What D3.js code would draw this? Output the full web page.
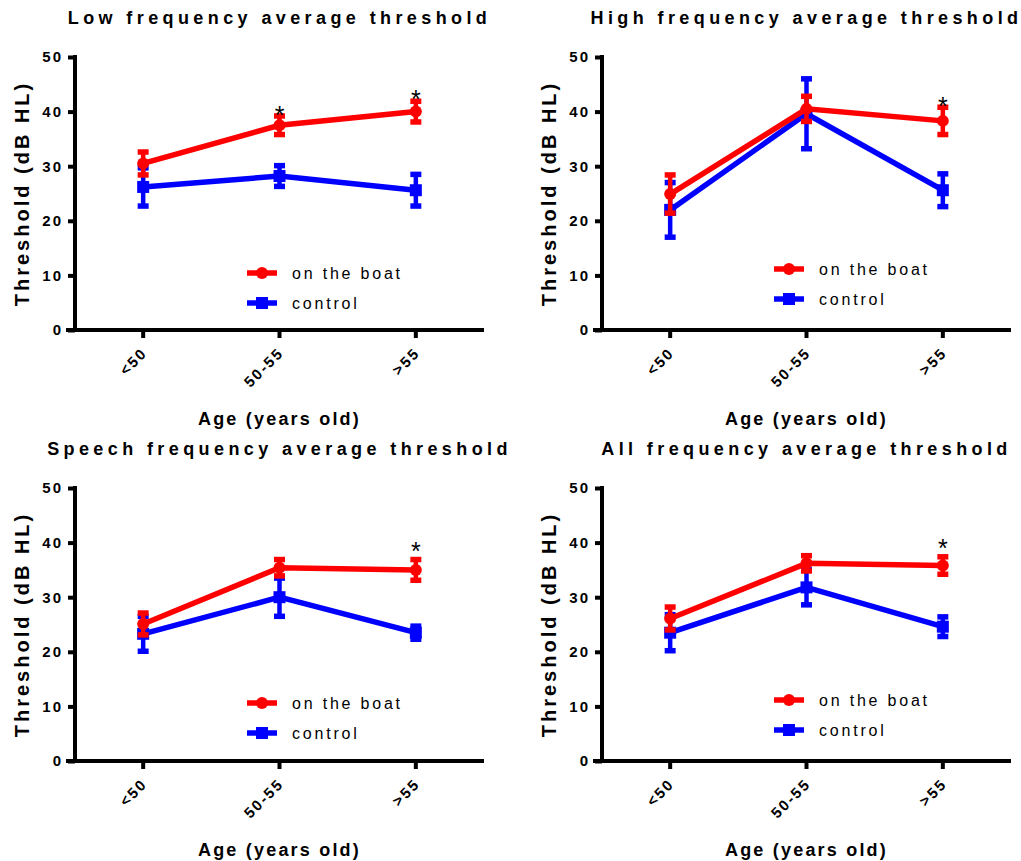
<!DOCTYPE html>
<html>
<head>
<meta charset="utf-8">
<script src="https://cdn.jsdelivr.net/npm/d3@7"></script>
<style>
  body { margin: 0; background: #fff; }
  text { font-family: 'Liberation Sans', Arial, sans-serif; }
</style>
</head>
<body>
<script>
// chart data
let ageGroups = ['<50', '50-55', '>55']
let yTicks = [0, 10, 20, 30, 40, 50]
let panelTitles = [
  'Low frequency average threshold',
  'High frequency average threshold',
  'Speech frequency average threshold',
  'All frequency average threshold'
]
let seriesNames = ['on the boat', 'control']

// mean threshold per age group, one row per panel
let boatMean = [
  [30.5, 37.5, 40.0],
  [24.9, 40.5, 38.3],
  [25.1, 35.4, 35.0],
  [26.1, 36.2, 35.8]
]
let boatErr = [
  [2.1, 1.7, 1.9],
  [3.5, 2.3, 2.5],
  [2.0, 1.5, 1.9],
  [2.1, 1.4, 1.6]
]
let controlMean = [
  [26.2, 28.2, 25.6],
  [22.0, 39.6, 25.6],
  [23.3, 30.0, 23.5],
  [23.5, 31.8, 24.6]
]
let controlErr = [
  [3.5, 1.9, 2.9],
  [5.0, 6.4, 3.0],
  [3.2, 3.5, 1.2],
  [3.3, 3.2, 1.8]
]
// significance stars: which age group and at what level
let starGroups = [['50-55', '>55'], ['>55'], ['>55'], ['>55']]
let starLevel = [[40.3, 43.2], [41.9], [39.4], [39.9]]

// measurements
let m = {
  width: 1021,
  height: 861,
  plotW: 409,
  plotH: 273,
  line: 5.5,
  axis: 4
}
let panels = [
  { left: 75, top: 57, legendY: 57 },
  { left: 602, top: 57, legendY: 61 },
  { left: 75, top: 488, legendY: 58 },
  { left: 602, top: 488, legendY: 61 }
]
let colors = ['#ff0000', '#0000ff']

let svg = d3.select('body')
  .append('svg')
  .attr('width', m.width)
  .attr('height', m.height)

let xScale = d3.scaleBand()
  .domain(ageGroups)
  .range([0, m.plotW])

let yScale = d3.scaleLinear()
  .domain([0, 50])
  .range([m.plotH, 0])

function cx(d) { return xScale(d) + xScale.bandwidth() / 2 }

panels.forEach(function(p, i) {
  let g = svg.append('g')
    .attr('transform', 'translate(' + p.left + ',' + p.top + ')')

  // title
  g.append('text')
    .attr('x', m.plotW / 2)
    .attr('y', -33)
    .attr('text-anchor', 'middle')
    .style('font-size', '18px')
    .style('font-weight', 'bold')
    .style('letter-spacing', '4.4px')
    .text(panelTitles[i])

  // axes
  let yAxis = d3.axisLeft(yScale)
    .tickValues(yTicks)
    .tickSize(7)
    .tickSizeOuter(0)
    .tickPadding(5)

  let xAxis = d3.axisBottom(xScale)
    .tickSize(8)
    .tickSizeOuter(0)

  let gx = g.append('g')
    .attr('transform', 'translate(0,' + m.plotH + ')')
    .call(xAxis)
  gx.select('.domain').attr('stroke-width', m.axis).attr('d', 'M-9,0H' + m.plotW)
  gx.selectAll('.tick line').attr('stroke-width', m.axis)
  gx.selectAll('.tick text')
    .attr('y', 0)
    .attr('dy', 0)
    .attr('text-anchor', 'end')
    .attr('transform', 'translate(5,24) rotate(-45)')
    .style('font-size', '15px')
    .style('font-weight', 'bold')
    .style('letter-spacing', '2px')
    .attr('fill', '#000')

  let gy = g.append('g')
    .call(yAxis)
  gy.select('.domain').attr('stroke-width', m.axis).attr('d', 'M0,-2V' + (m.plotH + 2))
  gy.selectAll('.tick line').attr('stroke-width', m.axis)
  gy.selectAll('.tick text')
    .style('font-size', '15px')
    .style('font-weight', 'bold')
    .style('letter-spacing', '2px')
    .attr('fill', '#000')

  // axis titles
  g.append('text')
    .attr('transform', 'translate(-46,' + (m.plotH / 2) + ') rotate(-90)')
    .attr('text-anchor', 'middle')
    .style('font-size', '20px')
    .style('font-weight', 'bold')
    .style('letter-spacing', '3px')
    .text('Threshold (dB HL)')

  g.append('text')
    .attr('x', m.plotW / 2)
    .attr('y', m.plotH + 95)
    .attr('text-anchor', 'middle')
    .style('font-size', '18px')
    .style('font-weight', 'bold')
    .style('letter-spacing', '2.2px')
    .text('Age (years old)')

  // series: control first, boat on top
  let series = [
    { mean: controlMean[i], err: controlErr[i], color: colors[1], shape: 'square' },
    { mean: boatMean[i], err: boatErr[i], color: colors[0], shape: 'circle' }
  ]

  series.forEach(function(s) {
    let pts = ageGroups.map(function(a, k) { return { age: a, mean: s.mean[k], err: s.err[k] } })

    let line = d3.line()
      .x(function(d) { return cx(d.age) })
      .y(function(d) { return yScale(d.mean) })

    g.append('path')
      .datum(pts)
      .attr('d', line)
      .attr('fill', 'none')
      .attr('stroke', s.color)
      .attr('stroke-width', m.line)

    let eb = g.selectAll(null)
      .data(pts)
      .enter()
      .append('g')
      .attr('stroke', s.color)
      .attr('stroke-width', 4.5)

    eb.append('line')
      .attr('x1', function(d) { return cx(d.age) })
      .attr('x2', function(d) { return cx(d.age) })
      .attr('y1', function(d) { return yScale(d.mean + d.err) })
      .attr('y2', function(d) { return yScale(d.mean - d.err) })

    eb.append('line')
      .attr('x1', function(d) { return cx(d.age) - 5.5 })
      .attr('x2', function(d) { return cx(d.age) + 5.5 })
      .attr('y1', function(d) { return yScale(d.mean + d.err) })
      .attr('y2', function(d) { return yScale(d.mean + d.err) })
      .attr('stroke-width', 5.5)

    eb.append('line')
      .attr('x1', function(d) { return cx(d.age) - 5.5 })
      .attr('x2', function(d) { return cx(d.age) + 5.5 })
      .attr('y1', function(d) { return yScale(d.mean - d.err) })
      .attr('y2', function(d) { return yScale(d.mean - d.err) })
      .attr('stroke-width', 5.5)

    if (s.shape == 'circle') {
      g.selectAll(null)
        .data(pts)
        .enter()
        .append('circle')
        .attr('cx', function(d) { return cx(d.age) })
        .attr('cy', function(d) { return yScale(d.mean) })
        .attr('r', 6)
        .attr('fill', s.color)
    } else {
      g.selectAll(null)
        .data(pts)
        .enter()
        .append('rect')
        .attr('x', function(d) { return cx(d.age) - 6 })
        .attr('y', function(d) { return yScale(d.mean) - 6 })
        .attr('width', 12)
        .attr('height', 12)
        .attr('fill', s.color)
    }
  })

  // stars
  g.selectAll(null)
    .data(starGroups[i].map(function(a, k) { return { age: a, level: starLevel[i][k] } }))
    .enter()
    .append('text')
    .attr('x', function(d) { return cx(d.age) })
    .attr('y', function(d) { return yScale(d.level) + 14 })
    .attr('text-anchor', 'middle')
    .style('font-size', '25px')
    .text('*')

  // legend
  let lg = g.append('g')
    .attr('transform', 'translate(172,' + (m.plotH - p.legendY) + ')')

  seriesNames.forEach(function(name, k) {
    let row = lg.append('g')
      .attr('transform', 'translate(0,' + (k * 30) + ')')
    row.append('line')
      .attr('x1', 0)
      .attr('x2', 30)
      .attr('stroke', colors[k])
      .attr('stroke-width', m.line)
    if (k == 0) {
      row.append('circle').attr('cx', 15).attr('r', 6).attr('fill', colors[k])
    } else {
      row.append('rect').attr('x', 9).attr('y', -6).attr('width', 12).attr('height', 12).attr('fill', colors[k])
    }
    row.append('text')
      .attr('x', 45)
      .attr('dy', '0.4em')
      .style('font-size', '16px')
      .style('letter-spacing', '2.8px')
      .text(name)
  })
})
</script>
</body>
</html>
